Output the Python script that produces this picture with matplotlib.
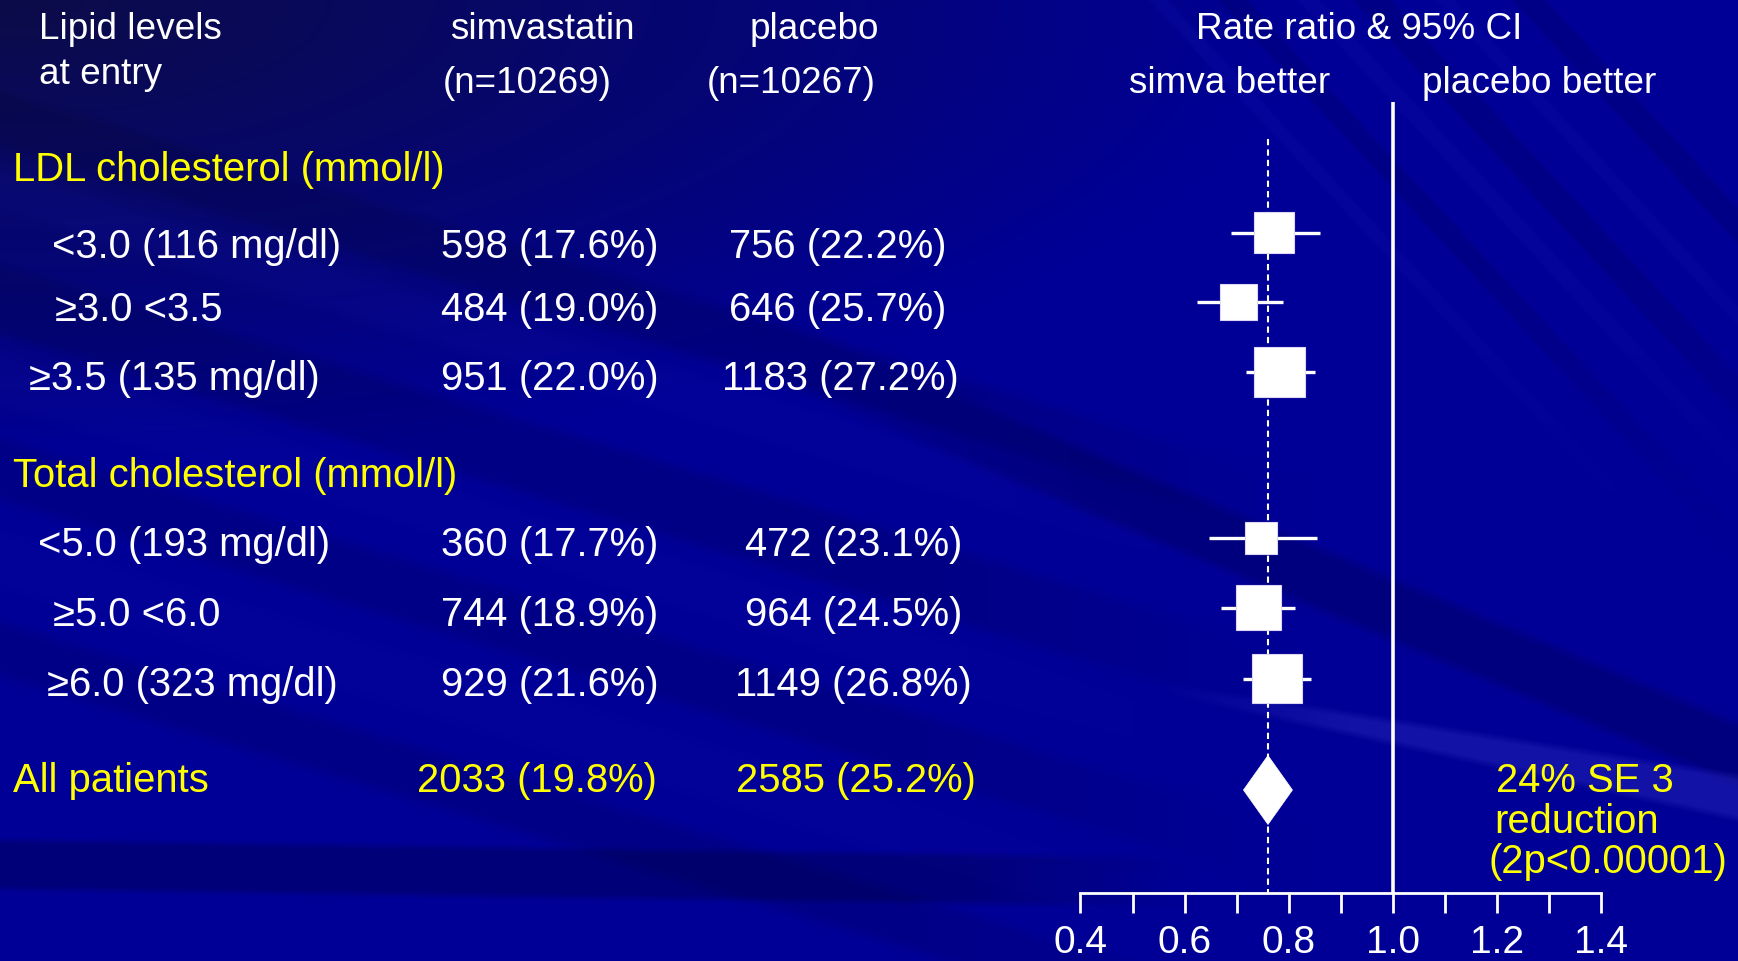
import numpy as np
import matplotlib
matplotlib.use("Agg")
import matplotlib.pyplot as plt
from matplotlib.patches import Rectangle, Polygon

# ---------------- data ----------------
group_titles = ["LDL cholesterol (mmol/l)", "Total cholesterol (mmol/l)"]
subgroup_labels = ["<3.0 (116 mg/dl)", "\u22653.0 <3.5", "\u22653.5 (135 mg/dl)",
                   "<5.0 (193 mg/dl)", "\u22655.0 <6.0", "\u22656.0 (323 mg/dl)"]
simva_events = [598, 484, 951, 360, 744, 929]
simva_pct = [17.6, 19.0, 22.0, 17.7, 18.9, 21.6]
placebo_events = [756, 646, 1183, 472, 964, 1149]
placebo_pct = [22.2, 25.7, 27.2, 23.1, 24.5, 26.8]
rate_ratio = [0.772, 0.703, 0.782, 0.747, 0.741, 0.778]
ci_lower = [0.690, 0.624, 0.717, 0.647, 0.670, 0.713]
ci_upper = [0.859, 0.789, 0.851, 0.855, 0.812, 0.843]

overall_label = "All patients"
overall_simva_events, overall_simva_pct = 2033, 19.8
overall_placebo_events, overall_placebo_pct = 2585, 25.2
overall_rr = 0.76
overall_ci = (0.713, 0.807)
overall_note = ["24% SE 3", "reduction", "(2p<0.00001)"]

n_simva, n_placebo = 10269, 10267
scale_major = [0.4, 0.6, 0.8, 1.0, 1.2, 1.4]
scale_minor = [0.5, 0.7, 0.9, 1.1, 1.3]

# ---------------- layout (pixels) ----------------
W, H = 1738, 962
X_ONE, PX_PER_UNIT = 1393.0, 521.0
FONT = "Liberation Sans"
WHITE, YELLOW = "white", "#FFFF00"


def make_background(w, h):
    yy, xx = np.mgrid[0:h, 0:w].astype(float)
    base = np.array([0, 0, 150]) / 255
    navy = np.array([12, 12, 72]) / 255
    d = np.clip(1 - np.hypot(xx / 1300, yy / 460), 0, 1)[..., None]
    img = base * (1 - d) + navy * d

    def band(c, s, hw, soft):
        off = np.abs(yy - (c + s * xx))
        return np.clip((hw - off) / soft + 0.5, 0, 1)

    def fade(lo, hi):
        return np.clip((xx - lo) / (hi - lo), 0, 1)

    def darken(im, wt, f):
        return im * (1 - wt[..., None] * (1 - f))

    def lighten(im, wt, col, a):
        col = np.array(col) / 255
        return im * (1 - wt[..., None] * a) + col * (wt[..., None] * a)

    # soft diagonal rays across the left and middle
    for c, hw_, kind, k in [(120, 28, "d", 0.88), (190, 22, "l", 0.14),
                            (300, 35, "d", 0.88), (380, 25, "l", 0.12),
                            (470, 30, "d", 0.9), (560, 30, "l", 0.1),
                            (650, 26, "d", 0.9)]:
        wt = band(c, 0.3, hw_, 14) * (1 - fade(900, 1300))
        if kind == "l":
            img = lighten(img, wt, (20, 20, 170), k)
        else:
            img = darken(img, wt, k)
    # diagonal dark band across the middle right
    img = darken(img, band(25.5, 0.42, 30, 12) * fade(700, 1100), 0.84)
    # dark band low on the left
    img = darken(img, band(865, 0.015, 24, 8) * (1 - fade(950, 1200)), 0.8)
    # light streak lower right, widening to the right
    hw = np.clip(6 + 0.03 * (xx - 1219), 0, None)
    img = lighten(img, band(468, 0.19, hw, 8) * fade(1150, 1350), (45, 45, 190), 0.4)
    # steep streaks in the upper right
    top = np.clip((560 - yy) / 300, 0, 1)
    for c, hw_, kind in [(-1250, 10, "l"), (-1330, 15, "d"), (-1412, 12, "l"),
                         (-1480, 20, "d"), (-1560, 10, "l"), (-1650, 18, "d")]:
        wt = band(c, 1.08, hw_, 6) * top
        if kind == "l":
            img = lighten(img, wt, (20, 20, 175), 0.22)
        else:
            img = darken(img, wt, 0.9)
    return np.clip(img, 0, 1)


fig = plt.figure(figsize=(W / 100, H / 100), dpi=100)

# background and text layer in pixel coordinates
ax_bg = fig.add_axes([0, 0, 1, 1])
ax_bg.imshow(make_background(W, H), extent=(0, W, H, 0), aspect="auto",
             interpolation="bilinear")
ax_bg.set_xlim(0, W)
ax_bg.set_ylim(H, 0)
ax_bg.axis("off")


def txt(x, y, s, size, color=WHITE):
    ax_bg.text(x, y, s, fontsize=size, color=color, family=FONT,
               ha="left", va="baseline")


HEAD, BODY = 26.6, 28.8
txt(38.8, 38.8, "Lipid levels", HEAD)
txt(38.8, 84, "at entry", HEAD)
txt(450, 38.8, "simvastatin", HEAD)
txt(443, 93, f"(n={n_simva})", HEAD)
txt(750, 38.8, "placebo", HEAD)
txt(707, 93, f"(n={n_placebo})", HEAD)
txt(1196, 38.8, "Rate ratio & 95% CI", HEAD)
txt(1129, 93, "simva better", HEAD)
txt(1422, 93, "placebo better", HEAD)

group_baselines = [180.7, 486.6]
for gy, title in zip(group_baselines, group_titles):
    txt(13.3, gy, title, BODY, YELLOW)

row_baselines = [258, 321, 390, 556, 626, 696]
label_x = [52, 55.4, 28.8, 37.7, 53.2, 46.6]
placebo_x = [729, 729, 721.5, 745, 745, 735]
for i, lab in enumerate(subgroup_labels):
    yb = row_baselines[i]
    txt(label_x[i], yb, lab, BODY)
    txt(441, yb, f"{simva_events[i]} ({simva_pct[i]:.1f}%)", BODY)
    txt(placebo_x[i], yb, f"{placebo_events[i]} ({placebo_pct[i]:.1f}%)", BODY)

txt(13.3, 792.5, overall_label, BODY, YELLOW)
txt(416.8, 792.5, f"{overall_simva_events} ({overall_simva_pct:.1f}%)", BODY, YELLOW)
txt(736, 792.5, f"{overall_placebo_events} ({overall_placebo_pct:.1f}%)", BODY, YELLOW)
for (x, y), line in zip([(1496, 792.5), (1494, 833.5), (1488.6, 873.4)], overall_note):
    txt(x, y, line, BODY, YELLOW)

# forest layer: x in rate-ratio units, y in pixel rows
ax = fig.add_axes([0, 0, 1, 1], facecolor="none")
ax.set_xlim(1 + (0 - X_ONE) / PX_PER_UNIT, 1 + (W - X_ONE) / PX_PER_UNIT)
ax.set_ylim(H, 0)
ax.axis("off")

AXIS_Y = 894
ax.vlines(1.0, 103, AXIS_Y, color=WHITE, lw=2.6)
ax.vlines(overall_rr, 140, AXIS_Y, color=WHITE, lw=1.5,
          linestyles=(0, (3.0, 2.0)))

box_y = [233.5, 303, 372.8, 538.8, 608.8, 679.5]
for i in range(len(rate_ratio)):
    y = box_y[i]
    ax.hlines(y, ci_lower[i], ci_upper[i], color=WHITE, lw=2.4)
    side = 1.09 * np.sqrt(simva_events[i] + placebo_events[i])
    ax.add_patch(Rectangle((rate_ratio[i] - side / 2 / PX_PER_UNIT, y - side / 2),
                           side / PX_PER_UNIT, side, facecolor=WHITE,
                           edgecolor="#dcd6f4", lw=0.8, zorder=3))

dy, dh = 791, 34.5
ax.add_patch(Polygon([(overall_ci[0], dy), (overall_rr, dy - dh),
                      (overall_ci[1], dy), (overall_rr, dy + dh)],
                     closed=True, facecolor=WHITE, edgecolor=WHITE, lw=0.5, zorder=3))

# rate-ratio scale along the bottom
x0 = X_ONE + (scale_major[0] - 1) * PX_PER_UNIT
x1 = X_ONE + (scale_major[-1] - 1) * PX_PER_UNIT
ax_s = fig.add_axes([x0 / W, 1 - AXIS_Y / H, (x1 - x0) / W, 1e-4], facecolor="none")
ax_s.set_xlim(scale_major[0], scale_major[-1])
for side_name in ("top", "left", "right"):
    ax_s.spines[side_name].set_visible(False)
ax_s.spines["bottom"].set_color(WHITE)
ax_s.spines["bottom"].set_linewidth(2.0)
ax_s.set_yticks([])
ax_s.set_xticks(scale_major)
ax_s.set_xticks(scale_minor, minor=True)
ax_s.set_xticklabels([f"{v:.1f}" for v in scale_major])
ax_s.tick_params(axis="x", which="both", direction="out", length=14.4, width=2.0,
                 color=WHITE)
ax_s.tick_params(axis="x", which="major", labelsize=28, labelcolor=WHITE, pad=8)
for lab in ax_s.get_xticklabels():
    lab.set_family(FONT)

fig.savefig("out.png", dpi=100)
